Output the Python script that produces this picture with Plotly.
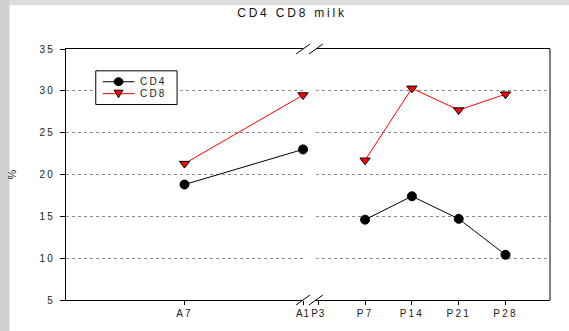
import plotly.graph_objects as go

# --- data -------------------------------------------------------------
title_text = "CD4 CD8 milk"
pre_cats = ["A7", "A1"]                        # antepartum samples
post_cats = ["P3", "P7", "P14", "P21", "P28"]  # postpartum tick labels
post_x = ["P7", "P14", "P21", "P28"]           # postpartum samples
cd4_pre = [18.8, 23.0]
cd8_pre = [21.3, 29.5]
cd4_post = [14.6, 17.4, 14.7, 10.4]
cd8_post = [21.7, 30.3, 27.7, 29.6]
y_ticks = [5, 10, 15, 20, 25, 30, 35]
series_names = ["CD4", "CD8"]

# --- layout geometry --------------------------------------------------
W, H = 569, 331
ML, MR, MT, MB = 62, 19, 49, 29
PW, PH = W - ML - MR, H - MT - MB
LEFT_END = (301 - ML) / PW
RIGHT_START = (314 - ML) / PW

FONT = "Liberation Sans, Arial, sans-serif"
TXT = "#222"


def spaced(s, px=2.2):
    return f'<span style="letter-spacing:{px}px">{s}</span>'


def px_x(x):
    """pixel column -> paper x"""
    return (x - ML) / PW


def px_y(y):
    """pixel row -> paper y"""
    return (H - MB - y) / PH


# labels either side of the break sit tight against each other
tight = {"A1", "P3"}


def xlabel(c):
    return spaced(c, 0.8 if c in tight else 2.2)


fig = go.Figure()

styles = {
    "CD4": dict(line=dict(color="black", width=1),
                marker=dict(symbol="circle", size=9, color="black",
                            line=dict(color="black", width=1))),
    "CD8": dict(line=dict(color="#ff0000", width=1),
                marker=dict(symbol="triangle-down", size=9, color="#ff0000",
                            line=dict(color="black", width=1))),
}

for name, pre, post in [("CD4", cd4_pre, cd4_post), ("CD8", cd8_pre, cd8_post)]:
    fig.add_trace(go.Scatter(x=pre_cats, y=pre, mode="lines+markers", name=name,
                             xaxis="x", yaxis="y", cliponaxis=False,
                             showlegend=False, **styles[name]))
    fig.add_trace(go.Scatter(x=post_x, y=post, mode="lines+markers", name=name,
                             xaxis="x2", yaxis="y", cliponaxis=False,
                             showlegend=False, **styles[name]))

axis_common = dict(showline=True, linecolor="black", linewidth=1, mirror=True,
                   ticks="outside", ticklen=4, tickcolor="black", showgrid=False,
                   zeroline=False, tickfont=dict(family=FONT, size=10, color=TXT))

fig.update_layout(
    width=W, height=H,
    margin=dict(l=ML, r=MR, t=MT, b=MB, pad=0),
    paper_bgcolor="white",
    plot_bgcolor="white",
    showlegend=False,
    title=dict(text=spaced(title_text, 2.8), x=292 / W, xanchor="center",
               y=1 - 13 / H, yanchor="middle",
               font=dict(family=FONT, size=12, color="#111")),
    xaxis=dict(domain=[0, LEFT_END], type="category", categoryorder="array",
               categoryarray=pre_cats, range=[-1.0, 1.0],
               tickvals=pre_cats, ticktext=[xlabel(c) for c in pre_cats],
               anchor="y", **axis_common),
    xaxis2=dict(domain=[RIGHT_START, 1], type="category", categoryorder="array",
                categoryarray=post_cats, range=[-0.05, 4.95],
                tickvals=post_cats, ticktext=[xlabel(c) for c in post_cats],
                anchor="y", **axis_common),
    yaxis=dict(range=[5, 35], tickvals=y_ticks,
               ticktext=[spaced(str(v)) for v in y_ticks],
               showline=True, linecolor="black", linewidth=1,
               ticks="outside", ticklen=5, tickcolor="black", ticklabelstandoff=3,
               showgrid=True, gridcolor="#8a8a8a", gridwidth=1, griddash="dot",
               zeroline=False, tickfont=dict(family=FONT, size=10, color=TXT),
               title=dict(text="%", standoff=20,
                          font=dict(family=FONT, size=11, color=TXT))),
)

# grey slide backdrop showing along the top and left edges
fig.add_shape(type="rect", xref="paper", yref="paper", layer="below",
              x0=px_x(-5), x1=px_x(W + 5), y0=px_y(5), y1=px_y(-5),
              fillcolor="#dcdcdc", line=dict(width=0))
fig.add_shape(type="rect", xref="paper", yref="paper", layer="below",
              x0=px_x(-5), x1=px_x(5), y0=px_y(H + 5), y1=px_y(-5),
              fillcolor="#cfcfcf", line=dict(width=0))

# grey right-hand frame edge
fig.add_shape(type="line", xref="paper", yref="paper", x0=1, x1=1, y0=0, y1=1,
              line=dict(color="#808080", width=2))

# axis-break marks on the top and bottom frame lines
dx, dy = 7 / PW, 5 / PH
for xc in (LEFT_END, RIGHT_START):
    for yc in (0, 1):
        fig.add_shape(type="line", xref="paper", yref="paper",
                      x0=xc - dx, x1=xc + dx, y0=yc - dy, y1=yc + dy,
                      line=dict(color="black", width=1))

# --- legend box ------------------------------------------------------
fig.add_shape(type="rect", xref="paper", yref="paper",
              x0=px_x(92), x1=px_x(174), y0=px_y(105), y1=px_y(71),
              fillcolor="white", line=dict(color="black", width=1))
row_y = {"CD4": 82, "CD8": 94}
for name in series_names:
    y = row_y[name]
    st = styles[name]
    fig.add_shape(type="line", xref="paper", yref="paper",
                  x0=px_x(99), x1=px_x(131), y0=px_y(y), y1=px_y(y),
                  line=dict(color=st["line"]["color"], width=1))
    if st["marker"]["symbol"] == "circle":
        fig.add_shape(type="circle", xref="paper", yref="paper",
                      x0=px_x(110.5), x1=px_x(119.5), y0=px_y(y + 4), y1=px_y(y - 4),
                      fillcolor="black", line=dict(color="black", width=1))
    else:
        x0, x1, xm = px_x(110.5), px_x(119.5), px_x(115)
        ya, yb = px_y(y - 3.5), px_y(y + 4)
        fig.add_shape(type="path", xref="paper", yref="paper",
                      path=f"M {x0},{ya} L {x1},{ya} L {xm},{yb} Z",
                      fillcolor="#ff0000", line=dict(color="black", width=1))
    fig.add_annotation(xref="paper", yref="paper", x=px_x(135), y=px_y(y),
                       xanchor="left", yanchor="middle", showarrow=False,
                       text=spaced(name, 2.2),
                       font=dict(family=FONT, size=10, color=TXT))

fig.write_html("out.html")
